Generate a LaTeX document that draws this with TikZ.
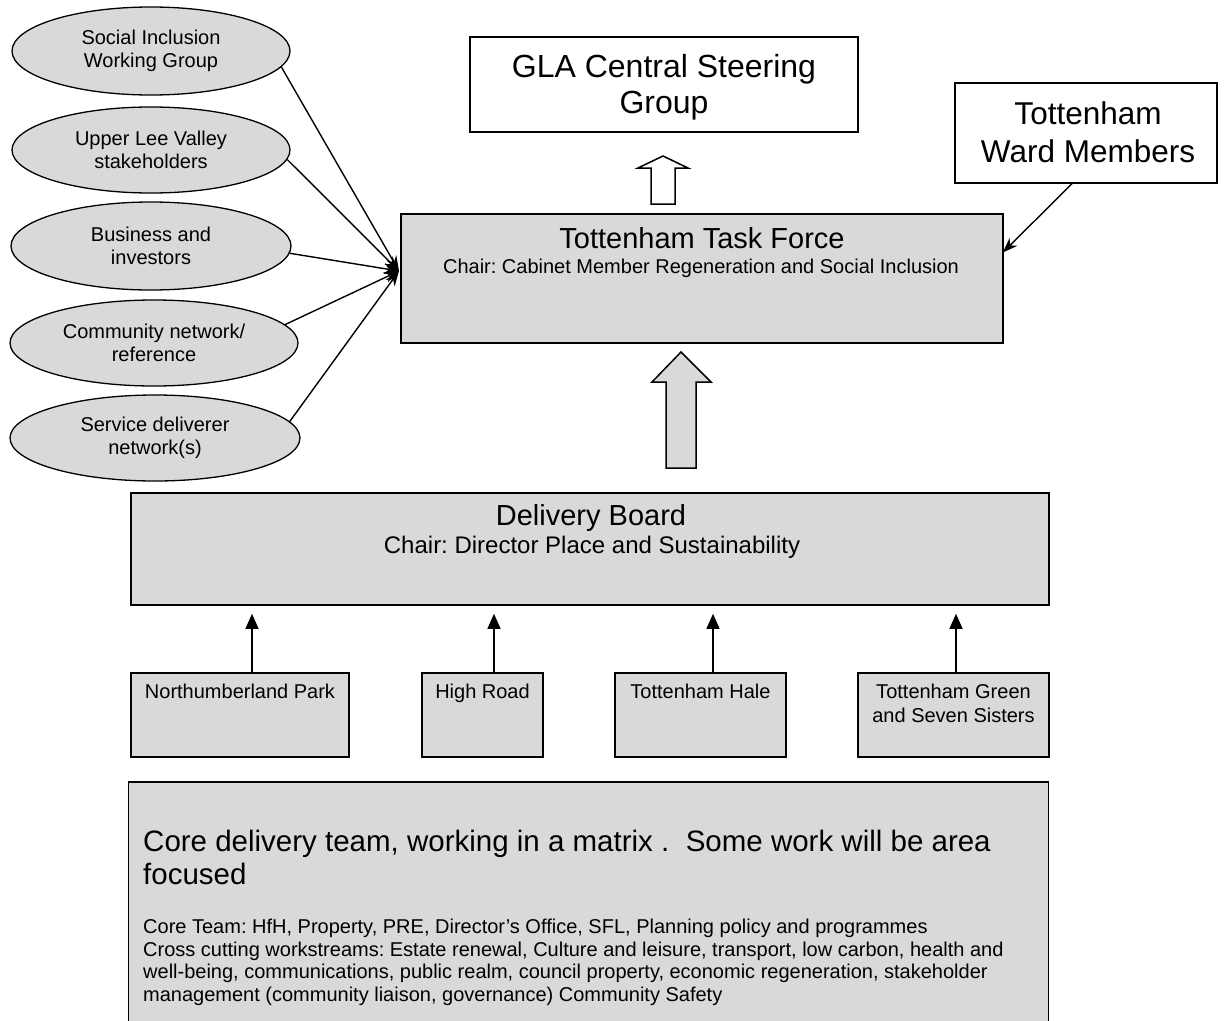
\documentclass[tikz,border=0pt]{standalone}
\usepackage{fontspec}
\setmainfont{Liberation Sans}
\usetikzlibrary{arrows.meta,shapes.geometric}
\definecolor{boxgray}{RGB}{217,217,217}
\newcommand\fsz[1]{\fontsize{#1}{#1}\selectfont}
\frenchspacing
\begin{document}
\begin{tikzpicture}[x=1pt,y=-1pt,
  box/.style={draw=black, line width=1.6pt, fill=boxgray, inner sep=0pt},
  wbox/.style={draw=black, line width=1.4pt, fill=white, inner sep=0pt},
  oval/.style={ellipse, draw=black, line width=1.3pt, fill=boxgray, inner sep=0pt,
    align=center, font=\fontsize{20}{23}\selectfont},
  lbl/.style={inner sep=0pt, anchor=base},
  lblw/.style={inner sep=0pt, anchor=base west},
  conn/.style={line width=1.4pt, -{Stealth[length=15pt,width=11pt]}},
  upar/.style={line width=1.2pt, -{Triangle[length=15pt,width=13pt]}, shorten >=8pt},
  hollow/.style={draw=black, line width=1.5pt}
]
\useasboundingbox (0,0) rectangle (1226,1020);
\clip (0,0) rectangle (1226,1020);

% top boxes
\node[wbox, minimum width=388pt, minimum height=95pt] (gla) at (664,84.5) {};
\node[lbl, font=\fsz{32}] (gla1) at (664,77) {GLA Central Steering};
\node[lbl, font=\fsz{32}] (gla2) at (664,113) {Group};

\node[wbox, minimum width=262pt, minimum height=100pt] (wm) at (1086,133) {};
\node[lbl, font=\fsz{31.5}] (wm1) at (1088,124) {Tottenham};
\node[lbl, font=\fsz{31.5}] (wm2) at (1088,162) {Ward Members};

% task force
\node[box, minimum width=602pt, minimum height=129pt] (tf) at (702,278.5) {};
\node[lbl, font=\fsz{29}] (tf1) at (702,248) {Tottenham Task Force};
\node[lbl, font=\fsz{20}] (tf2) at (701,273) {Chair: Cabinet Member Regeneration and Social Inclusion};

% ellipses
\node[oval, minimum width=278pt, minimum height=88pt] (soc) at (151,51) {Social Inclusion\\Working Group};
\node[oval, minimum width=278pt, minimum height=86pt] (upl) at (151,150) {Upper Lee Valley\\stakeholders};
\node[oval, minimum width=280pt, minimum height=88pt] (bus) at (151,246) {Business and\\investors};
\node[oval, minimum width=288pt, minimum height=86pt] (com) at (154,343) {Community network/\\reference};
\node[oval, minimum width=290pt, minimum height=86pt] (svc) at (155,438) {Service deliverer\\network(s)};

% delivery board
\node[box, minimum width=918pt, minimum height=112pt] (db) at (590,549) {};
\node[lbl, font=\fsz{29}] (db1) at (591,525) {Delivery Board};
\node[lbl, font=\fsz{24}] (db2) at (592,553) {Chair: Director Place and Sustainability};

% area boxes
\node[box, minimum width=218pt, minimum height=84pt] (np) at (240,715) {};
\node[box, minimum width=121pt, minimum height=84pt] (hr) at (482.5,715) {};
\node[box, minimum width=171pt, minimum height=84pt] (th) at (700.5,715) {};
\node[box, minimum width=191pt, minimum height=84pt] (tg) at (953.5,715) {};
\node[lbl, font=\fsz{20}] (npt) at (240,698) {Northumberland Park};
\node[lbl, font=\fsz{20}] (hrt) at (482.5,698) {High Road};
\node[lbl, font=\fsz{20}] (tht) at (700.5,698) {Tottenham Hale};
\node[lbl, font=\fsz{20}] (tgt1) at (953.5,698) {Tottenham Green};
\node[lbl, font=\fsz{20}] (tgt2) at (953.5,722) {and Seven Sisters};

% core box
\node[box, minimum width=920pt, minimum height=250pt] (core) at (588.5,907) {};
\node[lblw, font=\fsz{29.5}] (c1) at (143,851) {Core delivery team, working in a matrix .\ \ Some work will be area};
\node[lblw, font=\fsz{29.5}] (c2) at (143,884) {focused};
\node[lblw, font=\fsz{20}] (c3) at (143,933) {Core Team: HfH, Property, PRE, Director's Office, SFL, Planning policy and programmes};
\node[lblw, font=\fsz{20}] (c4) at (143,956) {Cross cutting workstreams: Estate renewal, Culture and leisure, transport, low carbon, health and};
\node[lblw, font=\fsz{20}] (c5) at (143,978) {well-being, communications, public realm, council property, economic regeneration, stakeholder};
\node[lblw, font=\fsz{20}] (c6) at (143,1001) {management (community liaison, governance) Community Safety};

% hollow arrows
\draw[hollow, fill=white] (663,156) -- (688,168) -- (675,168) -- (675,204) -- (651,204) -- (651,168) -- (638,168) -- cycle;
\draw[hollow, fill=boxgray] (681,352) -- (711,382) -- (696,382) -- (696,468) -- (666,468) -- (666,382) -- (652,382) -- cycle;

% converging connectors
\coordinate (hub) at (399,271);
\draw[conn] (soc.-7) -- (hub);
\draw[conn] (upl.-4) -- (hub);
\draw[conn] (bus.-3) -- (hub);
\draw[conn] (com.8) -- (hub);
\draw[conn] (svc.7) -- (hub);

% ward members arrow
\coordinate (w1) at ([xshift=-14pt]wm.south);
\coordinate (w2) at ([xshift=-1pt,yshift=26pt]tf.east);
\draw[conn] (w1) -- (w2);

% area arrows
\coordinate (a1) at ([xshift=12pt]np.north);
\coordinate (a2) at ([xshift=11.5pt]hr.north);
\coordinate (a3) at ([xshift=12.5pt]th.north);
\coordinate (a4) at ([xshift=2.5pt]tg.north);
\draw[upar] (a1) -- (a1 |- db.south);
\draw[upar] (a2) -- (a2 |- db.south);
\draw[upar] (a3) -- (a3 |- db.south);
\draw[upar] (a4) -- (a4 |- db.south);
\end{tikzpicture}
\end{document}
